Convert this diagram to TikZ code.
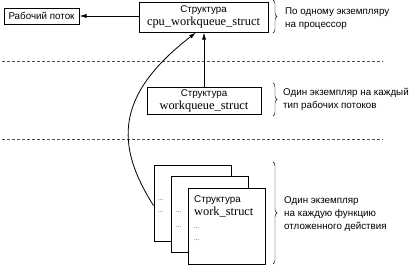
\documentclass[tikz,border=0pt]{standalone}
\usepackage{fontspec}
\setmainfont{Liberation Sans}
\newfontfamily\codefont{Liberation Serif}
\usetikzlibrary{arrows.meta,positioning,calc,decorations.pathreplacing}
\newcommand{\lbl}{\fontsize{9.8}{13}\selectfont}
\newcommand{\code}{\codefont\fontsize{12.4}{13}\selectfont}

\begin{document}
\begin{tikzpicture}[x=1pt,y=-1pt,>={Latex[length=7pt,width=4pt]},
  box/.style={draw,line width=1pt,inner sep=0pt,align=center,font=\lbl},
  page/.style={draw,line width=1pt,fill=white,minimum width=77pt,minimum height=76pt},
  note/.style={anchor=west,align=left,font=\lbl,inner sep=0pt},
  dots/.style={anchor=west,inner sep=0pt,text=black!70,font=\codefont\fontsize{7}{8}\selectfont},
  sep/.style={black!70,dash pattern=on 3pt off 2pt,line width=0.6pt},
  link/.style={->,line width=0.8pt}]
  \useasboundingbox (0,0) rectangle (413,268);
  % top level: thread and per-cpu structure
  \node[box,minimum width=75pt,minimum height=16pt] (worker) at (41.5,16) {Рабочий поток};
  \node[box,minimum width=129pt,minimum height=30pt] (cpu) at (203.5,17) {Структура\\{\code cpu\_workqueue\_struct}};
  \draw[link] (cpu.west |- worker.east) -- (worker.east);
  \draw[sep] (2,61) -- (383,61);
  % workqueue
  \node[box,minimum width=114pt,minimum height=27pt] (wq) at (204,100.5) {Структура\\{\code workqueue\_struct}};
  \draw[link] (wq.north) -- (wq.north |- cpu.south);
  \draw[sep] (2,139) -- (383,139);
  % stack of work structures
  \foreach \i in {0,1,2}
    \node[page] (w\i) at (192.5+17*\i,203+11.5*\i) {};
  \node[note] (wname) at (194,206) {Структура\\{\code work\_struct}};
  \foreach \x/\y in {158/200,158/212,176/212,176/227,194/228,194/240}
    \node[dots] at (\x,\y) {...};
  \draw[link] ([yshift=-2.5pt]w0.west) .. controls (115,145) and (115,95) .. ([xshift=-7.5pt]cpu.south);
  % braces and notes
  \draw[decorate,decoration={brace,amplitude=4pt}] (273,0) -- (273,33);
  \draw[decorate,decoration={brace,amplitude=4pt}] (273,83) -- (273,116);
  \draw[decorate,decoration={brace,amplitude=4pt}] (273,162) -- (273,264);
  \node[note] (cpunote) at (285,18.5) {По одному экземпляру\\на процессор};
  \node[note] (wqnote) at (283,99) {Один экземпляр на каждый\\тип рабочих потоков};
  \node[note] (worknote) at (284,214.5) {Один экземпляр\\на каждую функцию\\отложенного действия};
\end{tikzpicture}
\end{document}
